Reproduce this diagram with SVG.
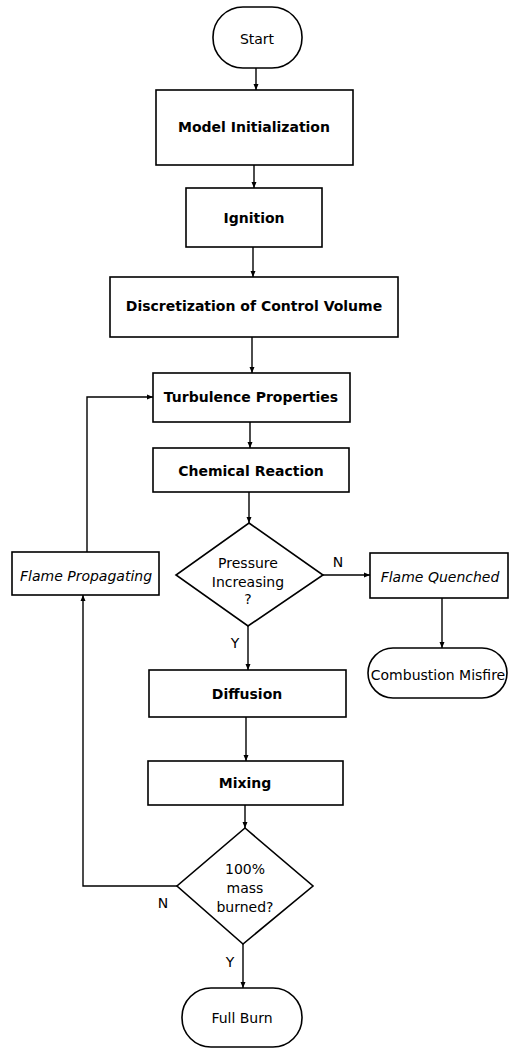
<svg xmlns="http://www.w3.org/2000/svg" width="510" height="1049" viewBox="0 0 510 1049">
<style>
.shape{fill:#fff;stroke:#000;stroke-width:1.6}
.conn{fill:none;stroke:#000;stroke-width:1.4}
text{font-family:"DejaVu Sans","Liberation Sans",sans-serif;font-size:14px;fill:#000;text-anchor:middle;dominant-baseline:central}
.b{font-weight:bold}
.i{font-style:italic}
</style>
<defs>
<marker id="arr" markerWidth="6" markerHeight="6" refX="6" refY="3" orient="auto" markerUnits="userSpaceOnUse">
<path d="M0,0.5 L6,3 L0,5.5 z" fill="#000"/>
</marker>
</defs>
<rect width="510" height="1049" fill="#fff"/>
<g id="connectors">
<path class="conn" d="M256,68 V90" marker-end="url(#arr)"/>
<path class="conn" d="M254,165 V188" marker-end="url(#arr)"/>
<path class="conn" d="M253,247 V277" marker-end="url(#arr)"/>
<path class="conn" d="M252,337 V373" marker-end="url(#arr)"/>
<path class="conn" d="M250,422 V448" marker-end="url(#arr)"/>
<path class="conn" d="M249,492 V523" marker-end="url(#arr)"/>
<path class="conn" d="M323,575 H370" marker-end="url(#arr)"/>
<path class="conn" d="M442,598 V648" marker-end="url(#arr)"/>
<path class="conn" d="M248,626 V670" marker-end="url(#arr)"/>
<path class="conn" d="M246,717 V761" marker-end="url(#arr)"/>
<path class="conn" d="M245,805 V828" marker-end="url(#arr)"/>
<path class="conn" d="M243,944 V988" marker-end="url(#arr)"/>
<path class="conn" d="M177,886 H83 V595" marker-end="url(#arr)"/>
<path class="conn" d="M87,552 V397 H153" marker-end="url(#arr)"/>
<text x="338" y="562">N</text>
<text x="235" y="643">Y</text>
<text x="163" y="903">N</text>
<text x="230" y="962">Y</text>
</g>
<g id="start"><rect class="shape" x="213" y="7" width="89" height="61" rx="30"/><text x="257" y="39">Start</text></g>
<g id="model-init"><rect class="shape" x="156" y="90" width="197" height="75"/><text class="b" x="254" y="127">Model Initialization</text></g>
<g id="ignition"><rect class="shape" x="186" y="188" width="136" height="59"/><text class="b" x="254" y="218">Ignition</text></g>
<g id="discretization"><rect class="shape" x="110" y="277" width="288" height="60"/><text class="b" x="254" y="306">Discretization of Control Volume</text></g>
<g id="turbulence"><rect class="shape" x="153" y="373" width="197" height="49"/><text class="b" x="251" y="397">Turbulence Properties</text></g>
<g id="chemical"><rect class="shape" x="153" y="448" width="196" height="44"/><text class="b" x="251" y="471">Chemical Reaction</text></g>
<g id="pressure"><polygon class="shape" points="249,523 323,575 248,626 176,575"/><text x="248" y="563">Pressure</text><text x="248" y="582">Increasing</text><text x="248" y="599">?</text></g>
<g id="flame-propagating"><rect class="shape" x="12" y="552" width="147" height="43"/><text class="i" x="86" y="576">Flame Propagating</text></g>
<g id="flame-quenched"><rect class="shape" x="370" y="553" width="138" height="45"/><text class="i" x="440" y="577">Flame Quenched</text></g>
<g id="misfire"><rect class="shape" x="368" y="648" width="139" height="50" rx="25"/><text x="438" y="675">Combustion Misfire</text></g>
<g id="diffusion"><rect class="shape" x="149" y="670" width="197" height="47"/><text class="b" x="247" y="694">Diffusion</text></g>
<g id="mixing"><rect class="shape" x="148" y="761" width="195" height="44"/><text class="b" x="245" y="783">Mixing</text></g>
<g id="mass-burned"><polygon class="shape" points="245,828 313,886 243,944 177,886"/><text x="245" y="869">100%</text><text x="245" y="888">mass</text><text x="245" y="907">burned?</text></g>
<g id="full-burn"><rect class="shape" x="182" y="988" width="120" height="59" rx="29"/><text x="242" y="1018">Full Burn</text></g>
</svg>
